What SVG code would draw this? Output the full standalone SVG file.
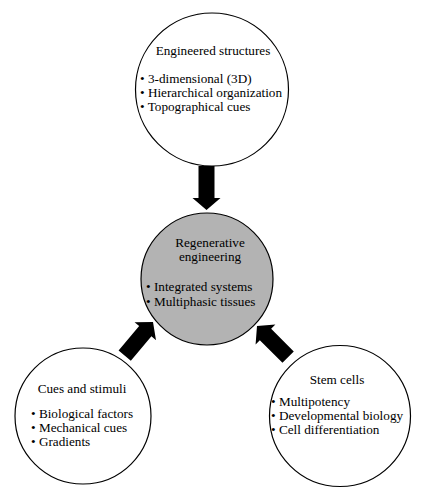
<svg xmlns="http://www.w3.org/2000/svg" xmlns:xlink="http://www.w3.org/1999/xlink" width="424" height="500" viewBox="0 0 424 500">
<style>
.node{fill:#fff;stroke:#000;stroke-width:1.2}
.hub{fill:#b3b3b3;stroke:#000;stroke-width:1.2}
text{font-family:"Liberation Serif","Times New Roman",serif;font-size:13.2px;fill:#000}
.c{text-anchor:middle}
.arrow{fill:#000}
</style>
<defs>
<path id="arr" d="M0,0 L14,12 L8,12 L8,44 L-8,44 L-8,12 L-14,12 Z"/>
</defs>
<rect width="424" height="500" fill="#fff"/>
<g id="connectors" class="arrow">
<use xlink:href="#arr" href="#arr" transform="translate(206.5,210) rotate(180)"/>
<use xlink:href="#arr" href="#arr" transform="translate(153,322) rotate(40)"/>
<use xlink:href="#arr" href="#arr" transform="translate(257,326) rotate(-45)"/>
</g>
<g id="engineered-structures">
<circle class="node" cx="212" cy="89.5" r="76.5"/>
<text class="c" x="213" y="55">Engineered structures</text>
<text x="140" y="83">• 3-dimensional (3D)</text>
<text x="140" y="96.8">• Hierarchical organization</text>
<text x="140" y="110.6">• Topographical cues</text>
</g>
<g id="regenerative-engineering">
<circle class="hub" cx="207" cy="279" r="66"/>
<text class="c" x="210" y="247">Regenerative</text>
<text class="c" x="210" y="261">engineering</text>
<text x="146" y="291">• Integrated systems</text>
<text x="146" y="306">• Multiphasic tissues</text>
</g>
<g id="cues-and-stimuli">
<circle class="node" cx="83" cy="416" r="68"/>
<text class="c" x="82" y="393">Cues and stimuli</text>
<text x="31" y="418">• Biological factors</text>
<text x="31" y="431.8">• Mechanical cues</text>
<text x="31" y="445.6">• Gradients</text>
</g>
<g id="stem-cells">
<circle class="node" cx="340" cy="416" r="70.5"/>
<text class="c" x="337" y="384">Stem cells</text>
<text x="271" y="406">• Multipotency</text>
<text x="271" y="419.8">• Developmental biology</text>
<text x="271" y="433.6">• Cell differentiation</text>
</g>
</svg>
